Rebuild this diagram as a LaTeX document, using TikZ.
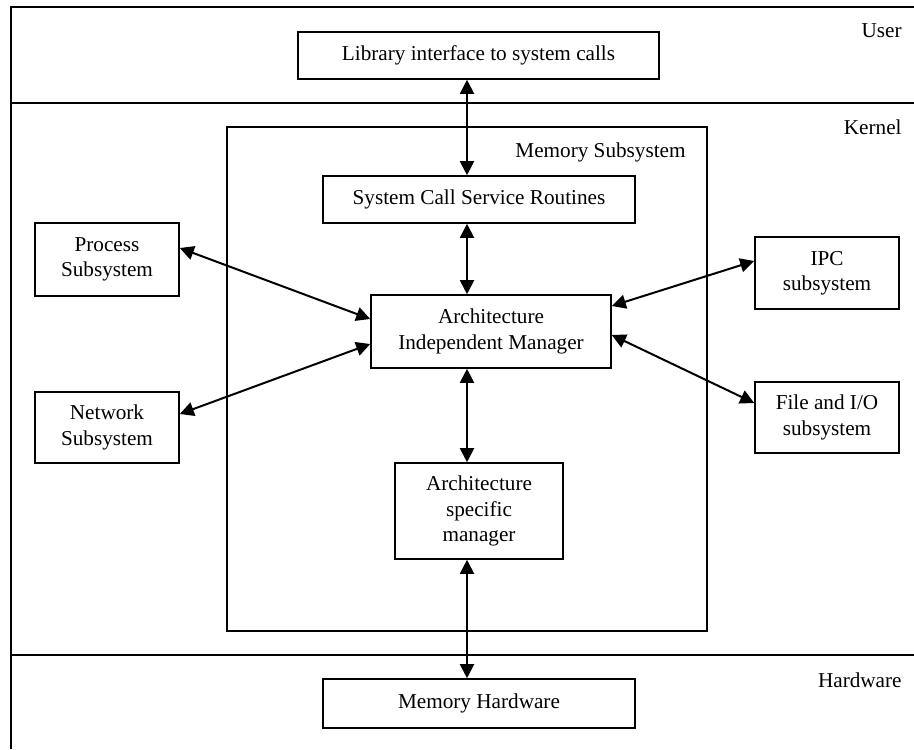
\documentclass[tikz,border=0pt]{standalone}
\usepackage{fontspec}
\setmainfont{Liberation Serif}
\usetikzlibrary{arrows.meta,calc}

\begin{document}
\begin{tikzpicture}[x=0.5pt,y=-0.5pt,
  every node/.style={font=\fontsize{10.6}{12.7}\selectfont},
  box/.style={draw=black,line width=0.8pt,align=center,inner sep=0pt},
  lbl/.style={inner sep=0pt,anchor=east},
  sep/.style={line width=1pt},
  ar/.style={{Triangle[length=7pt,width=7pt]}-{Triangle[length=7pt,width=7pt]},line width=1pt}]
\useasboundingbox (0,0) rectangle (914,749);
% layers
\draw[sep] (11,749) -- (11,7) -- (914,7);
\draw[sep] (11,103) -- (914,103);
\draw[sep] (11,655) -- (914,655);
\node[lbl] (user) at (902,31) {User};
\node[lbl] (kern) at (902,127) {Kernel};
\node[lbl] (hard) at (902,680) {Hardware};
% memory subsystem
\node[box,minimum width=240pt,minimum height=252pt] (mem) at (467,379) {};
\node[lbl] (meml) at (686,152) {Memory Subsystem};
\node[box,minimum width=180.5pt,minimum height=23.5pt] (lib) at (478.5,55.5) {Library interface to system calls};
\node[box,minimum width=156pt,minimum height=23.5pt] (sys) at (479,199.5) {System Call Service Routines};
\node[box,minimum width=120pt,minimum height=36.5pt] (aim) at (491,331.5) {Architecture\\Independent Manager};
\node[box,minimum width=84pt,minimum height=48pt] (arch) at (479,511) {Architecture\\specific\\manager};
\node[box,minimum width=156pt,minimum height=24.5pt] (hw) at (479,703.5) {Memory Hardware};
% other subsystems
\node[box,minimum width=72pt,minimum height=36.5pt] (proc) at (107,259.5) {Process\\Subsystem};
\node[box,minimum width=72pt,minimum height=35.5pt] (net) at (107,427.5) {Network\\Subsystem};
\node[box,minimum width=72pt,minimum height=36pt] (ipc) at (827,273) {IPC\\subsystem};
\node[box,minimum width=72pt,minimum height=35.5pt] (file) at (827,417.5) {File and I/O\\subsystem};
\coordinate (ax) at (467,0);
\foreach \a/\b in {lib/sys,sys/aim,aim/arch,arch/hw} \draw[ar] (\a.south -| ax) -- (\b.north -| ax);
\draw[ar] ($(proc.east)+(0,-11.5)$) -- ($(aim.west)+(0,-12.5)$);
\draw[ar] ($(net.east)+(0,-13.5)$) -- ($(aim.west)+(0,12.5)$);
\draw[ar] ($(aim.east)+(0,-25.5)$) -- ($(ipc.west)+(0,-12)$);
\draw[ar] ($(aim.east)+(0,3.5)$) -- ($(file.west)+(0,-14.5)$);
\end{tikzpicture}
\end{document}
